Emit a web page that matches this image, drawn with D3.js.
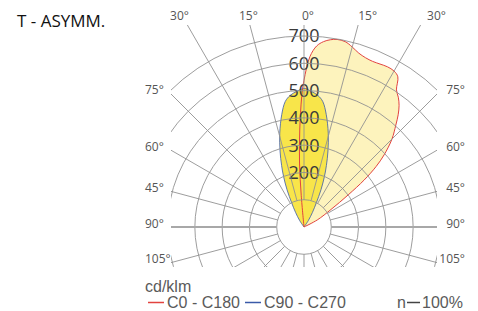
<!DOCTYPE html>
<html>
<head>
<meta charset="utf-8">
<script src="https://cdn.jsdelivr.net/npm/d3@7"></script>
<style>
  html, body { margin: 0; padding: 0; background: #ffffff; }
  svg { display: block; }
</style>
</head>
<body>
<svg id="chart"></svg>
<script>
// luminous intensity, cd/klm, angle measured from 0° (up), clockwise
const c0Angles = [-8, -5, -4, -2.5, -1, 0, 2, 4, 6, 8, 10, 12.5, 15, 17.5, 20, 22.5, 25, 27.5, 30, 32, 34, 36, 38, 40, 42, 45, 48, 50, 52, 54, 57, 62, 66];
const c0Values = [0, 115, 235, 356, 478, 538, 625, 665, 683, 693, 698, 696, 683, 668, 660, 657, 659, 662, 660, 649, 606, 588, 566, 537, 503, 456, 395, 345, 280, 200, 118, 55, 0];

const c90Angles = [-40, -34, -30, -27, -24.5, -22, -20, -17.5, -14.5, -11.2, -8.5, -6, -3, 0, 3, 6, 8.5, 11.2, 14.5, 17.5, 20, 22, 24.5, 27, 30, 34, 40];
const c90Values = [0, 28, 62, 100, 150, 200, 240, 292, 355, 420, 465, 485, 498, 508, 498, 485, 465, 420, 355, 292, 240, 200, 150, 100, 62, 28, 0];

const ringValues = [100, 200, 300, 400, 500, 600, 700];
const ringLabels = [200, 300, 400, 500, 600, 700];
const spokeAngles = d3.range(0, 360, 15);
const topAngles = [-30, -15, 0, 15, 30];
const topLabels = ['30°', '15°', '0°', '15°', '30°'];
const sideAngles = [45, 60, 75, 90, 105];
const sideLabels = ['75°', '60°', '45°', '90°', '105°'];

const legendItems = [
  { name: 'C0 - C180', color: '#e2433f' },
  { name: 'C90 - C270', color: '#3a5aa8' },
];

const width = 478;
const height = 311;
const cx = 304;
const cy = 227;
const rad = (a) => (a * Math.PI) / 180;

const svg = d3.select('#chart').attr('width', width).attr('height', height);

const r = d3.scaleLinear().domain([0, 700]).range([0, 191]);

// clip box of the grid
const box = { left: cx - 133, right: cx + 133, top: 25, bottom: cy + 40 };

svg.append('defs').append('clipPath').attr('id', 'gridClip')
  .append('rect')
  .attr('x', box.left).attr('y', box.top)
  .attr('width', box.right - box.left).attr('height', box.bottom - box.top);

const plot = svg.append('g').attr('transform', `translate(${cx},${cy})`);

const radial = d3.lineRadial()
  .angle((d) => rad(d[0]))
  .radius((d) => r(d[1]))
  .curve(d3.curveCatmullRomClosed.alpha(0.5));

const c0Data = c0Angles.map((a, i) => [a, c0Values[i]]);
const c90Data = c90Angles.map((a, i) => [a, c90Values[i]]);

// fills
plot.append('path').attr('d', radial(c0Data)).attr('fill', '#fdf3bd');
plot.append('path').attr('d', radial(c90Data)).attr('fill', '#f8e54a');

// grid
const grid = svg.append('g').attr('clip-path', 'url(#gridClip)')
  .append('g').attr('transform', `translate(${cx},${cy})`);

grid.selectAll('circle')
  .data(ringValues)
  .enter()
  .append('circle')
  .attr('r', (d) => r(d))
  .attr('fill', 'none')
  .attr('stroke', '#929292')
  .attr('stroke-width', 0.9);

grid.selectAll('line')
  .data(spokeAngles)
  .enter()
  .append('line')
  .attr('x1', (d) => r(100) * Math.sin(rad(d)))
  .attr('y1', (d) => -r(100) * Math.cos(rad(d)))
  .attr('x2', (d) => 400 * Math.sin(rad(d)))
  .attr('y2', (d) => -400 * Math.cos(rad(d)))
  .attr('stroke', (d) => (d === 90 || d === 270 ? '#a8a8a8' : '#929292'))
  .attr('stroke-width', (d) => (d === 90 || d === 270 ? 2 : 0.9));

// outlines
plot.append('path').attr('d', radial(c90Data))
  .attr('fill', 'none').attr('stroke', '#3a5aa8').attr('stroke-width', 0.8);
plot.append('path').attr('d', radial(c0Data))
  .attr('fill', 'none').attr('stroke', '#e2433f').attr('stroke-width', 1);

// ring values
plot.selectAll('.ring-label')
  .data(ringLabels)
  .enter()
  .append('text')
  .attr('class', 'ring-label')
  .attr('x', 0)
  .attr('y', (d) => -r(d))
  .attr('dy', '0.36em')
  .attr('text-anchor', 'middle')
  .style('font-family', '"Open Sans", sans-serif')
  .style('font-size', '18px')
  .style('fill', '#3a3a3a')
  .text((d) => d);

// angle labels
const angleFont = { family: '"Open Sans", sans-serif', size: '12px', fill: '#555555' };

svg.selectAll('.top-label')
  .data(topAngles)
  .enter()
  .append('text')
  .attr('class', 'top-label')
  .attr('x', (d) => cx + (cy - 17) * Math.tan(rad(d)) * 1.06 + 4)
  .attr('y', 16)
  .attr('dy', '0.36em')
  .attr('text-anchor', 'middle')
  .style('font-family', angleFont.family)
  .style('font-size', angleFont.size)
  .style('fill', angleFont.fill)
  .text((d, i) => topLabels[i]);

const sideY = (a) => cy - (box.right - cx) / Math.tan(rad(a)) - 4;

['left', 'right'].forEach((side) => {
  svg.selectAll(`.side-${side}`)
    .data(sideAngles)
    .enter()
    .append('text')
    .attr('class', `side-${side}`)
    .attr('x', side === 'left' ? 145 : 465)
    .attr('y', (d) => (d === 90 ? cy - 3 : sideY(d)))
    .attr('dy', '0.36em')
    .attr('text-anchor', side === 'left' ? 'start' : 'end')
    .style('font-family', angleFont.family)
    .style('font-size', angleFont.size)
    .style('fill', angleFont.fill)
    .text((d, i) => sideLabels[i]);
});

// title
svg.append('text')
  .attr('x', 17)
  .attr('y', 27)
  .style('font-family', '"Open Sans", sans-serif')
  .style('font-size', '17px')
  .style('fill', '#111111')
  .text('T - ASYMM.');

// legend
const legendFont = '"Liberation Sans", Arial, sans-serif';
const legend = svg.append('g').style('font-family', legendFont).style('font-size', '16px').style('fill', '#5a5a5a');

legend.append('text').attr('x', 145).attr('y', 292).text('cd/klm');

const legendX = [148, 245];
legendItems.forEach((item, i) => {
  legend.append('line')
    .attr('x1', legendX[i]).attr('x2', legendX[i] + 16)
    .attr('y1', 302.5).attr('y2', 302.5)
    .attr('stroke', item.color).attr('stroke-width', 1.5);
  legend.append('text').attr('x', legendX[i] + 19).attr('y', 308).text(item.name);
});

legend.append('text').attr('x', 397).attr('y', 308).text('n');
legend.append('line')
  .attr('x1', 407).attr('x2', 420).attr('y1', 302.5).attr('y2', 302.5)
  .attr('stroke', '#444444').attr('stroke-width', 1.5);
legend.append('text').attr('x', 422).attr('y', 308).text('100%');
</script>
</body>
</html>
